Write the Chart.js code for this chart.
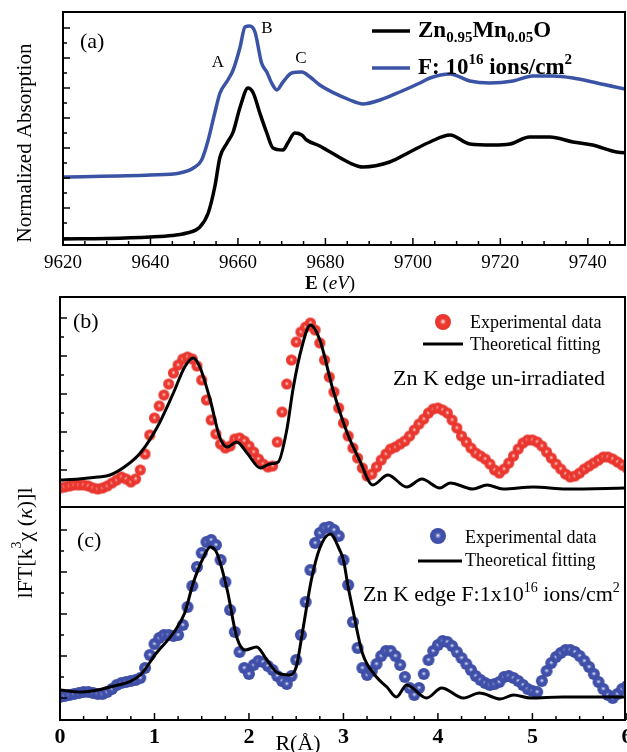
<!DOCTYPE html>
<html>
<head>
<meta charset="utf-8">
<script src="https://cdn.jsdelivr.net/npm/chart.js"></script>
<style>
  html, body { margin: 0; padding: 0; background: #fff; overflow: hidden; }
  #wrap { position: relative; width: 627px; height: 752px; }
  #wrap canvas { position: absolute; left: 0; top: 0; }
</style>
</head>
<body>
<div id="wrap">
  <canvas id="chartA" width="627" height="752"></canvas>
  <canvas id="chartB" width="627" height="752"></canvas>
  <canvas id="chartC" width="627" height="752"></canvas>
</div>
<script>
// ---- panel (a): XANES, energy in eV ----
const eBlack = [9620, 9630, 9640, 9645, 9648.3, 9651.3, 9653.2, 9654.7, 9655.9, 9657.5, 9658.9, 9660.5, 9662.3, 9663.5, 9665, 9666.6, 9668, 9670.3, 9671.4, 9673, 9674.6, 9675.7, 9678.7, 9680.3, 9685.6, 9688.6, 9694.7, 9699.3, 9703.9, 9708.5, 9713, 9718.3, 9722.2, 9726.7, 9731.3, 9736.6, 9741.1, 9746.6, 9750];
const muBlack = [0.06, 0.065, 0.08, 0.095, 0.12, 0.18, 0.32, 0.58, 0.88, 1.02, 1.13, 1.38, 1.57, 1.52, 1.32, 1.12, 0.97, 0.95, 1.02, 1.12, 1.10, 1.05, 0.99, 0.95, 0.82, 0.78, 0.83, 0.93, 1.03, 1.10, 1.01, 1.00, 1.01, 1.08, 1.08, 1.03, 1.00, 0.93, 0.92];
const eBlue = [9620, 9640, 9646.7, 9649.8, 9651.7, 9653.2, 9654.7, 9655.9, 9657.7, 9658.9, 9660.5, 9661.6, 9662.7, 9663.9, 9665.4, 9666.6, 9667.7, 9668.9, 9670.3, 9672.3, 9674.6, 9676.5, 9678.7, 9685.6, 9688.6, 9692.5, 9697, 9701.6, 9703.9, 9708.5, 9713, 9717.6, 9722.9, 9727.4, 9732, 9736.6, 9741.1, 9748.5, 9750];
const muBlue = [0.68, 0.70, 0.72, 0.77, 0.85, 1.05, 1.32, 1.52, 1.65, 1.75, 1.98, 2.18, 2.19, 2.13, 1.82, 1.73, 1.62, 1.55, 1.63, 1.72, 1.73, 1.68, 1.60, 1.45, 1.41, 1.45, 1.53, 1.62, 1.67, 1.71, 1.64, 1.62, 1.64, 1.69, 1.69, 1.67, 1.63, 1.56, 1.55];

// ---- panel (b)/(c): |FT| vs R, experimental sampled every 0.05 A ----
const rStep = 0.05;
const expB = [
  1.9, 2.0, 2.1, 2.2, 2.2, 2.2, 2.1, 1.9, 1.8, 1.9,
  2.1, 2.4, 2.7, 3.0, 2.8, 2.5, 2.8, 3.7, 5.3, 7.2,
  8.9, 10.1, 11.2, 12.3, 13.4, 14.2, 14.8, 15.0, 14.8, 14.1,
  12.7, 10.7, 8.7, 7.3, 6.3, 5.9, 6.1, 6.8, 6.9, 6.6,
  6.1, 5.5, 4.8, 4.3, 4.0, 4.1, 6.5, 9.5, 12.3, 14.7,
  16.5, 17.5, 18.0, 18.4, 17.7, 16.4, 14.7, 13.0, 11.5, 9.9,
  8.4, 7.1, 5.9, 4.9, 3.9, 3.1, 3.3, 4.0, 4.7, 5.3,
  5.8, 6.0, 6.3, 6.6, 7.1, 7.7, 8.3, 8.8, 9.4, 9.8,
  9.9, 9.7, 9.4, 8.7, 7.9, 7.1, 6.5, 5.9, 5.4, 5.1,
  4.8, 4.3, 3.7, 3.4, 3.8, 4.4, 5.1, 5.8, 6.4, 6.7,
  6.7, 6.5, 6.1, 5.5, 4.9, 4.3, 3.8, 3.3, 3.0, 3.1,
  3.4, 3.8, 4.1, 4.4, 4.7, 5.0, 5.0, 4.8, 4.5, 4.2,
  3.9
];
const fitRB = [0, 0.2, 0.4, 0.53, 0.71, 0.85, 1.03, 1.2, 1.32, 1.41, 1.48, 1.59, 1.69, 1.77, 1.87, 1.98, 2.12, 2.22, 2.31, 2.4, 2.47, 2.56, 2.65, 2.75, 2.89, 3.04, 3.17, 3.31, 3.47, 3.67, 3.83, 4.02, 4.13, 4.37, 4.52, 4.69, 5.01, 5.36, 6];
const fitB = [2.7, 2.8, 3.0, 3.2, 4.2, 5.4, 8.0, 11.4, 14.0, 14.9, 14.0, 10.7, 7.0, 6.0, 6.5, 5.4, 3.9, 4.3, 4.5, 7.7, 12.0, 16.0, 18.2, 16.7, 11.7, 7.4, 4.7, 2.2, 3.2, 2.0, 2.8, 1.9, 2.4, 1.8, 2.2, 1.8, 2.0, 1.8, 1.9];

const expC = [
  2.3, 2.4, 2.5, 2.6, 2.7, 2.8, 2.8, 2.7, 2.6, 2.6,
  2.8, 3.1, 3.5, 3.7, 3.8, 3.9, 4.0, 4.2, 5.2, 6.5,
  7.6, 8.2, 8.5, 8.5, 8.4, 8.5, 9.5, 11.3, 13.4, 15.3,
  16.7, 17.8, 18.0, 17.5, 16.0, 13.8, 11.0, 8.8, 6.8, 5.2,
  4.6, 5.5, 5.9, 5.8, 5.4, 5.0, 4.4, 3.9, 3.6, 4.4,
  6.0, 8.5, 11.8, 15.0, 17.7, 18.7, 19.2, 19.3, 19.0, 18.4,
  16.0, 13.5, 9.8, 7.2, 5.2, 4.5, 4.9, 5.6, 6.4, 6.9,
  6.9, 6.4, 5.5, 4.3, 3.2, 2.5, 3.2, 4.6, 6.0, 6.9,
  7.5, 7.9, 7.8, 7.4, 6.8, 6.2, 5.6, 5.0, 4.4, 4.0,
  3.7, 3.5, 3.6, 3.8, 4.3, 4.4, 4.2, 3.9, 3.5, 3.1,
  2.9, 2.8, 3.9, 4.9, 5.7, 6.3, 6.7, 7.0, 7.0, 6.8,
  6.4, 5.9, 5.3, 4.6, 3.8, 3.1, 2.5, 2.2, 2.6, 3.1,
  3.4
];
const fitRC = [0, 0.21, 0.53, 0.85, 1.02, 1.2, 1.32, 1.41, 1.52, 1.59, 1.66, 1.77, 1.87, 1.96, 2.08, 2.19, 2.29, 2.43, 2.5, 2.57, 2.66, 2.75, 2.86, 2.96, 3.0, 3.05, 3.1, 3.2, 3.35, 3.46, 3.56, 3.67, 3.88, 4.04, 4.27, 4.44, 4.66, 4.8, 4.98, 5.32, 6];
const fitC = [3.0, 2.8, 3.3, 4.5, 6.7, 8.7, 10.7, 13.7, 16.3, 17.3, 16.7, 13.0, 8.3, 7.0, 7.3, 6.0, 4.8, 4.5, 5.3, 9.0, 14.0, 17.2, 18.6, 17.0, 16.0, 13.3, 11.0, 6.7, 4.3, 3.3, 2.3, 3.5, 2.2, 3.2, 2.2, 2.7, 2.1, 2.5, 2.2, 2.3, 2.3];

// ---- tick marks ----
const eMajor = [9620, 9640, 9660, 9680, 9700, 9720, 9740];
const eMinor = [9625, 9630, 9635, 9645, 9650, 9655, 9665, 9670, 9675, 9685, 9690, 9695, 9705, 9710, 9715, 9725, 9730, 9735, 9745];
const muMajor = [0.07, 0.37, 0.67, 0.97, 1.27, 1.57, 1.87, 2.17];
const muMinor = [0.22, 0.52, 0.82, 1.12, 1.42, 1.72, 2.02];
const rMajor = [0, 1, 2, 3, 4, 5, 6];
const rMinor = [0.25, 0.5, 0.75, 1.25, 1.5, 1.75, 2.25, 2.5, 2.75, 3.25, 3.5, 3.75, 4.25, 4.5, 4.75, 5.25, 5.5, 5.75];
const ftBMajor = [3.7, 7.5, 11.3, 15.1, 18.9];
const ftBMinor = [5.6, 9.4, 13.2, 17.0];
const ftCMajor = [2.2, 6.4, 10.6, 14.8, 19.0];
const ftCMinor = [4.3, 8.5, 12.7, 16.9];

const serif = '"Liberation Serif", "Times New Roman", "DejaVu Serif", serif';
const F = (s, w, st) => (st || '') + ' ' + (w || '') + ' ' + s + 'px ' + serif;

// shaded ball marker with a small light highlight
function ball(r, tint, mid, edge) {
  const c = document.createElement('canvas');
  const s = Math.ceil(r * 2) + 2;
  c.width = c.height = s;
  const g = c.getContext('2d');
  const m = s / 2;
  const gr = g.createRadialGradient(m, m - 0.5, 0, m, m, r);
  gr.addColorStop(0, '#ffffff');
  gr.addColorStop(0.12, tint);
  gr.addColorStop(0.38, mid);
  gr.addColorStop(1, edge);
  g.fillStyle = gr;
  g.beginPath(); g.arc(m, m, r, 0, Math.PI * 2); g.fill();
  return c;
}
const redBall = ball(5.5, '#f8b0aa', '#ee3b33', '#e5342c');
const blueBall = ball(6, '#aab4e0', '#4454ad', '#3d4da6');
const redKey = ball(8, '#f8b0aa', '#ee3b33', '#e5342c');
const blueKey = ball(8, '#aab4e0', '#4454ad', '#3d4da6');

function rich(ctx, parts, align) {
  let w = 0;
  parts.forEach(p => { ctx.font = p.f; w += ctx.measureText(p.t).width; });
  let x = align === 'center' ? -w / 2 : 0;
  parts.forEach(p => {
    ctx.font = p.f;
    ctx.fillText(p.t, x, p.dy || 0);
    x += ctx.measureText(p.t).width;
  });
}

// box + inward ticks
const frame = {
  id: 'frame',
  afterDatasetsDraw(chart, args, o) {
    const { ctx, chartArea: a } = chart;
    const xs = chart.scales.x, ys = chart.scales.y;
    ctx.save();
    ctx.strokeStyle = '#000';
    ctx.lineWidth = 1.5;
    const seg = (x1, y1, x2, y2) => { ctx.beginPath(); ctx.moveTo(x1, y1); ctx.lineTo(x2, y2); ctx.stroke(); };
    (o.xMajor || []).forEach(v => { const p = xs.getPixelForValue(v); seg(p, a.bottom, p, a.bottom - 7); });
    (o.xMinor || []).forEach(v => { const p = xs.getPixelForValue(v); seg(p, a.bottom, p, a.bottom - 4); });
    (o.yMajor || []).forEach(v => { const p = ys.getPixelForValue(v); seg(a.left, p, a.left + 7, p); });
    (o.yMinor || []).forEach(v => { const p = ys.getPixelForValue(v); seg(a.left, p, a.left + 4, p); });
    ctx.lineWidth = 2;
    ctx.strokeRect(a.left, a.top, a.right - a.left, a.bottom - a.top);
    ctx.restore();
  }
};

const notes = {
  id: 'notes',
  afterDraw(chart, args, o) {
    const ctx = chart.ctx;
    (o.items || []).forEach(it => {
      ctx.save();
      ctx.fillStyle = '#000';
      ctx.textBaseline = it.base || 'alphabetic';
      ctx.translate(it.x, it.y);
      if (it.rot) ctx.rotate(it.rot);
      rich(ctx, it.parts, it.align);
      ctx.restore();
    });
  }
};

const keys = {
  id: 'keys',
  afterDraw(chart, args, o) {
    const ctx = chart.ctx;
    (o.items || []).forEach(it => {
      const ds = chart.data.datasets[it.ds];
      ctx.save();
      if (it.img) {
        ctx.drawImage(it.img, it.x - it.img.width / 2, it.y - it.img.height / 2);
      } else {
        ctx.strokeStyle = ds.borderColor;
        ctx.lineWidth = ds.borderWidth;
        ctx.beginPath(); ctx.moveTo(it.x, it.y); ctx.lineTo(it.x2, it.y); ctx.stroke();
      }
      ctx.fillStyle = '#000';
      ctx.textBaseline = 'alphabetic';
      ctx.translate(it.tx, it.ty);
      rich(ctx, it.parts || [{ t: ds.label, f: F(18) }], 'left');
      ctx.restore();
    });
  }
};

function xAxis(min, max, height, labels, font, pad) {
  return {
    type: 'linear', min: min, max: max,
    afterFit: s => { s.height = height; s.paddingLeft = 0; s.paddingRight = 0; },
    afterBuildTicks: s => { s.ticks = labels.map(v => ({ value: v })); },
    ticks: labels.length
      ? { display: true, color: '#000', font: font, padding: pad, maxRotation: 0, autoSkip: false, callback: v => String(v) }
      : { display: false },
    grid: { display: false, drawTicks: false },
    border: { display: false }
  };
}
function yAxis(min, max, width) {
  return {
    type: 'linear', min: min, max: max,
    afterFit: s => { s.width = width; s.paddingTop = 0; s.paddingBottom = 0; },
    ticks: { display: false },
    grid: { display: false, drawTicks: false },
    border: { display: false }
  };
}
function pts(xs, ys) { return xs.map((x, i) => ({ x: x, y: ys[i] })); }
function grid(vals) { return vals.map((v, i) => ({ x: +(i * rStep).toFixed(2), y: v })); }

function make(id, datasets, scales, padTop, fr, nt, ky) {
  return new Chart(document.getElementById(id), {
    type: 'scatter',
    data: { datasets: datasets },
    options: {
      responsive: false, animation: false, devicePixelRatio: 1,
      layout: { autoPadding: false, padding: { top: padTop, right: 2, left: 0, bottom: 0 } },
      scales: scales,
      plugins: { legend: { display: false }, tooltip: { enabled: false }, frame: fr, notes: { items: nt }, keys: { items: ky } }
    },
    plugins: [frame, notes, keys]
  });
}

// ----- (a) -----
const chartA = make('chartA', [
  { label: 'Zn0.95Mn0.05O', data: pts(eBlack, muBlack), showLine: true, borderColor: '#000', borderWidth: 3.5, pointRadius: 0, cubicInterpolationMode: 'monotone' },
  { label: 'F: 1e16 ions/cm2', data: pts(eBlue, muBlue), showLine: true, borderColor: '#3a53a5', borderWidth: 3.5, pointRadius: 0, cubicInterpolationMode: 'monotone' }
], {
  x: xAxis(9620, 9748.5, 507, eMajor, { family: serif, size: 19 }, 7),
  y: yAxis(0, 2.33, 63)
}, 12, { xMajor: eMajor, xMinor: eMinor, yMajor: muMajor, yMinor: muMinor }, [
  { x: 80, y: 48, parts: [{ t: '(a)', f: F(22) }] },
  { x: 218, y: 67, align: 'center', parts: [{ t: 'A', f: F(17) }] },
  { x: 267, y: 33, align: 'center', parts: [{ t: 'B', f: F(17) }] },
  { x: 301, y: 63, align: 'center', parts: [{ t: 'C', f: F(17) }] },
  { x: 305, y: 289, parts: [{ t: 'E', f: F(19, 'bold') }, { t: ' (', f: F(19) }, { t: 'eV', f: F(19, '', 'italic') }, { t: ')', f: F(19) }] },
  { x: 25, y: 143, rot: -Math.PI / 2, align: 'center', base: 'middle', parts: [{ t: 'Normalized Absorption', f: F(21) }] }
], [
  { ds: 0, x: 372, x2: 410, y: 31, tx: 418, ty: 37, parts: [
    { t: 'Zn', f: F(23, 'bold') }, { t: '0.95', f: F(15, 'bold'), dy: 5 },
    { t: 'Mn', f: F(23, 'bold') }, { t: '0.05', f: F(15, 'bold'), dy: 5 }, { t: 'O', f: F(23, 'bold') }] },
  { ds: 1, x: 372, x2: 410, y: 68, tx: 418, ty: 74, parts: [
    { t: 'F: 10', f: F(23, 'bold') }, { t: '16', f: F(15, 'bold'), dy: -10 },
    { t: ' ions/cm', f: F(23, 'bold') }, { t: '2', f: F(15, 'bold'), dy: -10 }] }
]);

// ----- (b) -----
const chartB = make('chartB', [
  { label: 'Theoretical fitting', data: pts(fitRB, fitB), showLine: true, borderColor: '#000', borderWidth: 3, pointRadius: 0, cubicInterpolationMode: 'monotone', order: 0 },
  { label: 'Experimental data', data: grid(expB), showLine: false, pointStyle: redBall, pointRadius: 5.5, order: 1 }
], {
  x: xAxis(0, 5.98, 245, [], {}, 0),
  y: yAxis(0, 21, 60)
}, 297, { yMajor: ftBMajor, yMinor: ftBMinor }, [
  { x: 73, y: 328, parts: [{ t: '(b)', f: F(22) }] },
  { x: 393, y: 385, parts: [{ t: 'Zn K edge un-irradiated', f: F(22) }] }
], [
  { ds: 1, img: redKey, x: 443, y: 322, tx: 470, ty: 328 },
  { ds: 0, x: 423, x2: 463, y: 344, tx: 470, ty: 350 }
]);

// ----- (c) -----
const chartC = make('chartC', [
  { label: 'Theoretical fitting', data: pts(fitRC, fitC), showLine: true, borderColor: '#000', borderWidth: 3, pointRadius: 0, cubicInterpolationMode: 'monotone', order: 0 },
  { label: 'Experimental data', data: grid(expC), showLine: false, pointStyle: blueBall, pointRadius: 6, order: 1 }
], {
  x: xAxis(0, 5.98, 32, rMajor, { family: serif, size: 22, weight: 'bold' }, 4),
  y: yAxis(0, 21.3, 60)
}, 507, { xMajor: rMajor, xMinor: rMinor, yMajor: ftCMajor, yMinor: ftCMinor }, [
  { x: 77, y: 547, parts: [{ t: '(c)', f: F(22) }] },
  { x: 363, y: 601, parts: [{ t: 'Zn K edge F:1x10', f: F(22) }, { t: '16', f: F(14), dy: -9 }, { t: ' ions/cm', f: F(22) }, { t: '2', f: F(14), dy: -9 }] },
  { x: 298, y: 750, align: 'center', parts: [{ t: 'R(Å)', f: F(22) }] },
  { x: 26, y: 543, rot: -Math.PI / 2, align: 'center', base: 'middle', parts: [
    { t: 'lFT[k', f: F(22) }, { t: '3', f: F(14), dy: -9 }, { t: 'χ (', f: F(22) },
    { t: 'κ', f: F(22, '', 'italic') }, { t: ')]l', f: F(22) }] }
], [
  { ds: 1, img: blueKey, x: 438, y: 536, tx: 465, ty: 543 },
  { ds: 0, x: 418, x2: 462, y: 561, tx: 465, ty: 566 }
]);
</script>
</body>
</html>
